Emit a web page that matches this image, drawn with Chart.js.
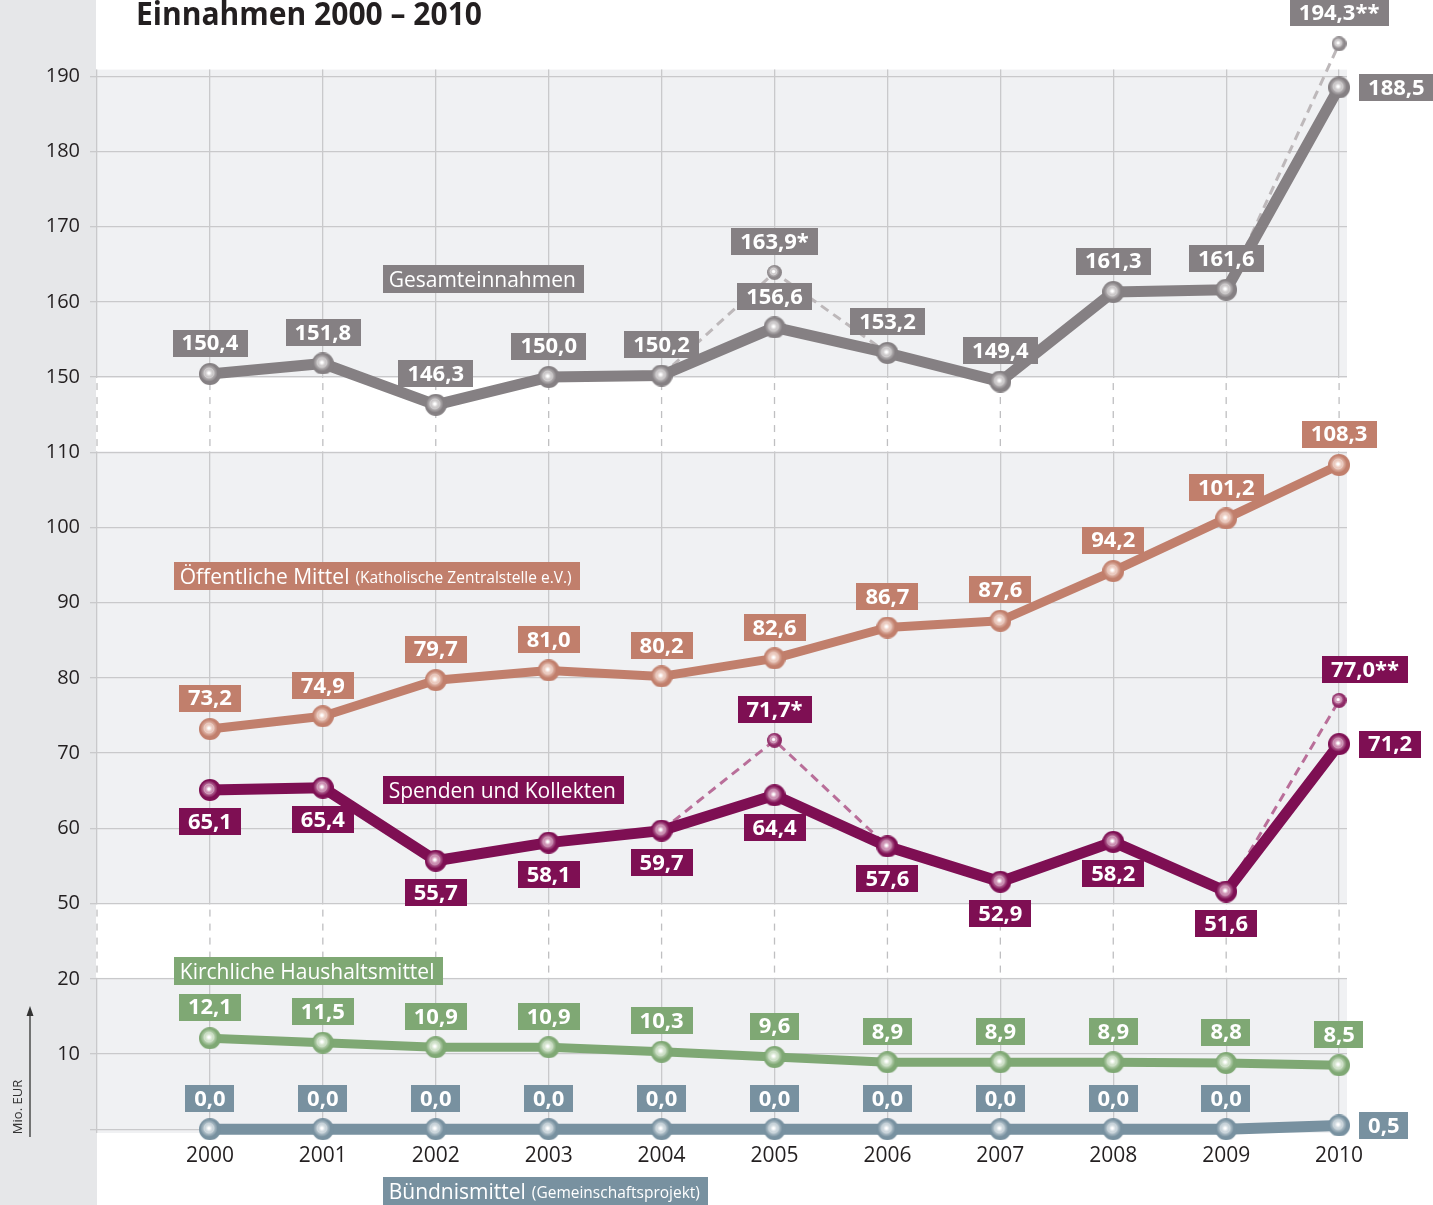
<!DOCTYPE html>
<html>
<head>
<meta charset="utf-8">
<title>Einnahmen 2000 – 2010</title>
<script src="https://cdn.jsdelivr.net/npm/chart.js@4/dist/chart.umd.min.js"></script>
<style>
  html, body { margin: 0; padding: 0; background: #fff; }
  #wrap { width: 1433px; height: 1205px; position: relative; }
</style>
</head>
<body>
<div id="wrap"><canvas id="myChart"></canvas></div>
<script>
// data (Mio. EUR)
const years = [2000, 2001, 2002, 2003, 2004, 2005, 2006, 2007, 2008, 2009, 2010];
const gesamt = [150.4, 151.8, 146.3, 150.0, 150.2, 156.6, 153.2, 149.4, 161.3, 161.6, 188.5];
const gesamtAlt = [null, null, null, null, 150.2, 163.9, 153.2, null, null, 161.6, 194.3];
const oeffentlich = [73.2, 74.9, 79.7, 81.0, 80.2, 82.6, 86.7, 87.6, 94.2, 101.2, 108.3];
const spenden = [65.1, 65.4, 55.7, 58.1, 59.7, 64.4, 57.6, 52.9, 58.2, 51.6, 71.2];
const spendenAlt = [null, null, null, null, 59.7, 71.7, 57.6, null, null, 51.6, 77.0];
const kirchlich = [12.1, 11.5, 10.9, 10.9, 10.3, 9.6, 8.9, 8.9, 8.9, 8.8, 8.5];
const buendnis = [0.0, 0.0, 0.0, 0.0, 0.0, 0.0, 0.0, 0.0, 0.0, 0.0, 0.5];
const altMarks = ['', '', '', '', '', '*', '', '', '', '', '**'];
const yTickLabels = ['', '10', '20', '50', '60', '70', '80', '90', '100', '110', '150', '160', '170', '180', '190'];

// the y axis is broken twice: 20 -> 50 and 110 -> 150
function toAxis(v) {
  if (v == null) return null;
  if (v <= 20) return v;
  if (v <= 110) return v - 20;
  return v - 50;
}
function fmt(v) { return v.toFixed(1).replace('.', ','); }
function toPoints(vals) { return years.map((yr, i) => ({ x: yr, y: toAxis(vals[i]) })); }

// little shaded balls used as point markers
function sphere(dark, light, d) {
  const c = document.createElement('canvas');
  c.width = c.height = d;
  const g = c.getContext('2d');
  const r = d / 2;
  g.fillStyle = dark;
  g.beginPath(); g.arc(r, r, r, 0, Math.PI * 2); g.fill();
  const grad = g.createRadialGradient(r - 1, r - 1, 0, r - 1, r - 1, r * 0.8);
  grad.addColorStop(0, '#ffffff');
  grad.addColorStop(0.35, light);
  grad.addColorStop(1, dark);
  g.fillStyle = grad;
  g.beginPath(); g.arc(r - 1, r - 1, r * 0.78, 0, Math.PI * 2); g.fill();
  g.strokeStyle = 'rgba(255,255,255,0.35)';
  g.lineWidth = 1;
  g.beginPath(); g.arc(r - 1, r - 1, r * 0.45, 0, Math.PI * 2); g.stroke();
  g.fillStyle = '#fff';
  g.beginPath(); g.arc(r - 1, r - 1, 1.6, 0, Math.PI * 2); g.fill();
  return c;
}

const cGesamt = '#858083', cOeff = '#c17f6c', cSpenden = '#7e0f53', cKirch = '#7fa874', cBuend = '#7891a0';
const plotTop = 140.9;   // axis value where the grey plot box starts

const seriesTitles = [
  { text: 'Gesamteinnahmen', sub: '', color: cGesamt, x: 2001.53, y: 113.1 },
  { text: 'Öffentliche Mittel', sub: '(Katholische Zentralstelle e.V.)', color: cOeff, x: 1999.68, y: 73.55 },
  { text: 'Spenden und Kollekten', sub: '', color: cSpenden, x: 2001.53, y: 45.15 },
  { text: 'Kirchliche Haushaltsmittel', sub: '', color: cKirch, x: 1999.68, y: 21.1 },
  { text: 'Bündnismittel', sub: '(Gemeinschaftsprojekt)', color: cBuend, x: 2001.53, y: -8.2 }
];

// value labels: dataset index, values, colour, placement
const valueLabels = [
  { ds: 0, vals: gesamt, color: cGesamt, place: 'above', right: [10] },
  { ds: 1, vals: oeffentlich, color: cOeff, place: 'above', right: [] },
  { ds: 2, vals: spenden, color: cSpenden, place: 'below', right: [10] },
  { ds: 3, vals: kirchlich, color: cKirch, place: 'above', right: [] },
  { ds: 4, vals: buendnis, color: cBuend, place: 'above', right: [10] },
  { ds: 5, vals: gesamtAlt, color: cGesamt, place: 'above', right: [], only: [5, 10] },
  { ds: 6, vals: spendenAlt, color: cSpenden, place: 'above', right: [], only: [5, 10], dx: { 10: 26 } }
];

function drawBox(ctx, text, cx, cy, color) {
  ctx.font = 'bold 22px "Open Sans"';
  const w = ctx.measureText(text).width + 18;
  const h = 27;
  ctx.fillStyle = color;
  ctx.fillRect(Math.round(cx - w / 2), Math.round(cy - h / 2), Math.round(w), h);
  ctx.fillStyle = '#fff';
  ctx.textAlign = 'center';
  ctx.textBaseline = 'middle';
  ctx.fillText(text, cx, cy + 1);
  return w;
}

const decor = {
  id: 'decor',
  beforeDraw(chart) {
    const { ctx, chartArea: a, scales: { y } } = chart;
    ctx.save();
    ctx.fillStyle = '#fff';
    ctx.fillRect(0, 0, chart.width, chart.height);
    ctx.fillStyle = '#e6e7e9';
    ctx.fillRect(0, 0, a.left, chart.height);
    const top = y.getPixelForValue(plotTop);
    ctx.fillStyle = '#f0f1f3';
    ctx.fillRect(a.left, top, a.right - a.left, a.bottom - top);
    ctx.restore();
  },
  beforeDatasetsDraw(chart) {
    const { ctx, chartArea: a, scales: { x, y } } = chart;
    ctx.save();
    // clear grid above the plot box
    ctx.fillStyle = '#fff';
    ctx.fillRect(a.left - 1, 0, chart.width, y.getPixelForValue(plotTop));
    // break bands
    [[90, 100], [20, 30]].forEach(([lo, hi]) => {
      const t = y.getPixelForValue(hi) + 1;
      const b = y.getPixelForValue(lo) - 1;
      ctx.fillStyle = '#fff';
      ctx.fillRect(a.left - 1, t, a.right - a.left + 2, b - t);
      ctx.strokeStyle = '#bfbfc1';
      ctx.lineWidth = 1.3;
      ctx.setLineDash([7, 7]);
      for (let yr = 1999; yr <= 2010; yr++) {
        const px = x.getPixelForValue(yr);
        ctx.beginPath();
        ctx.moveTo(px, t + 5);
        ctx.lineTo(px, b);
        ctx.stroke();
      }
      ctx.setLineDash([]);
    });
    ctx.restore();
  },
  afterDatasetsDraw(chart) {
    const { ctx, scales: { x, y } } = chart;
    ctx.save();
    valueLabels.forEach(cfg => {
      const meta = chart.getDatasetMeta(cfg.ds);
      cfg.vals.forEach((v, i) => {
        if (v == null) return;
        if (cfg.only && cfg.only.indexOf(i) < 0) return;
        const pt = meta.data[i];
        const text = fmt(v) + (cfg.only ? altMarks[i] : '');
        if (cfg.right.indexOf(i) >= 0) {
          ctx.font = 'bold 22px "Open Sans"';
          const w = ctx.measureText(text).width + 18;
          drawBox(ctx, text, pt.x + 20 + w / 2, pt.y, cfg.color);
        } else {
          const dx = cfg.dx && cfg.dx[i] ? cfg.dx[i] : 0;
          const dy = cfg.place === 'above' ? -31 : 32;
          drawBox(ctx, text, pt.x + dx, pt.y + dy, cfg.color);
        }
      });
    });
    // series titles
    seriesTitles.forEach(s => {
      const left = x.getPixelForValue(s.x);
      const cy = y.getPixelForValue(s.y);
      ctx.font = '21px "Open Sans"';
      const w1 = ctx.measureText(s.text).width;
      ctx.font = '15.5px "Open Sans"';
      const w2 = s.sub ? ctx.measureText(s.sub).width + 6 : 0;
      const w = w1 + w2 + 14;
      ctx.fillStyle = s.color;
      ctx.fillRect(Math.round(left), Math.round(cy - 14), Math.round(w), 28);
      ctx.fillStyle = '#fff';
      ctx.textAlign = 'left';
      ctx.textBaseline = 'alphabetic';
      ctx.font = '21px "Open Sans"';
      ctx.fillText(s.text, left + 6, cy + 8);
      if (s.sub) {
        ctx.font = '15.5px "Open Sans"';
        ctx.fillText(s.sub, left + 12 + w1, cy + 7);
      }
    });
    ctx.restore();
  },
  afterDraw(chart) {
    const ctx = chart.ctx;
    ctx.save();
    ctx.fillStyle = '#231f20';
    ctx.font = 'bold 33px "Open Sans"';
    ctx.textAlign = 'left';
    ctx.textBaseline = 'alphabetic';
    ctx.fillText('Einnahmen 2000 – 2010', 136, 25, 346);
    // unit with arrow
    ctx.strokeStyle = '#333';
    ctx.lineWidth = 1.3;
    ctx.beginPath();
    ctx.moveTo(30, 1137);
    ctx.lineTo(30, 1014);
    ctx.stroke();
    ctx.fillStyle = '#333';
    ctx.beginPath();
    ctx.moveTo(30, 1006);
    ctx.lineTo(26.5, 1016);
    ctx.lineTo(33.5, 1016);
    ctx.closePath();
    ctx.fill();
    ctx.translate(18, 1107);
    ctx.rotate(-Math.PI / 2);
    ctx.font = '13px "Open Sans"';
    ctx.textAlign = 'center';
    ctx.textBaseline = 'middle';
    ctx.fillText('Mio. EUR', 0, 0);
    ctx.restore();
  }
};

function mainSet(vals, color, light, width) {
  return {
    data: toPoints(vals),
    borderColor: color,
    backgroundColor: color,
    borderWidth: width,
    borderJoinStyle: 'round',
    borderCapStyle: 'round',
    pointStyle: sphere(color, light, 22),
    pointRadius: 11,
    tension: 0,
    clip: false
  };
}
function altSet(vals, color, pointDark, light) {
  return {
    data: toPoints(vals),
    borderColor: color,
    backgroundColor: color,
    borderWidth: 3,
    borderDash: [9, 6],
    pointStyle: sphere(pointDark, light, 15),
    pointRadius: years.map((_, i) => (altMarks[i] ? 7 : 0)),
    spanGaps: false,
    tension: 0,
    clip: false
  };
}

const ctx = document.getElementById('myChart').getContext('2d');
const chart = new Chart(ctx, {
  type: 'line',
  data: {
    datasets: [
      mainSet(gesamt, cGesamt, '#d4d1d2', 11),
      mainSet(oeffentlich, cOeff, '#f0d2c7', 9),
      mainSet(spenden, cSpenden, '#d49cbc', 11),
      mainSet(kirchlich, cKirch, '#d9e8d3', 9),
      mainSet(buendnis, cBuend, '#d5dee3', 11),
      altSet(gesamtAlt, '#bdb8ba', '#8d888b', '#d4d1d2'),
      altSet(spendenAlt, '#b96e99', '#8e2a66', '#d49cbc')
    ]
  },
  options: {
    responsive: true,
    maintainAspectRatio: false,
    animation: false,
    events: [],
    layout: { padding: { top: 20, right: 86, bottom: 0, left: 0 } },
    plugins: { legend: { display: false }, title: { display: false }, tooltip: { enabled: false } },
    scales: {
      x: {
        type: 'linear',
        position: 'bottom',
        min: 1999,
        max: 2010.07,
        afterFit: s => { s.height = 72; },
        border: { display: false },
        grid: { color: '#c9c9cb', lineWidth: 1.3, drawTicks: false },
        ticks: {
          stepSize: 1,
          includeBounds: false,
          padding: 10,
          color: '#231f20',
          font: { family: 'Open Sans', size: 21 },
          maxRotation: 0,
          autoSkip: false,
          callback: v => (v >= 2000 ? String(v) : '')
        }
      },
      y: {
        type: 'linear',
        min: -0.5,
        max: 147.2,
        afterFit: s => { s.width = 97; },
        border: { display: false },
        grid: { color: '#c9c9cb', lineWidth: 1.3, tickLength: 7 },
        ticks: {
          stepSize: 10,
          includeBounds: false,
          padding: 10,
          color: '#231f20',
          font: { family: 'Open Sans', size: 20 },
          callback: v => yTickLabels[Math.round(v / 10)] || ''
        }
      }
    }
  },
  plugins: [decor]
});
</script>
</body>
</html>
